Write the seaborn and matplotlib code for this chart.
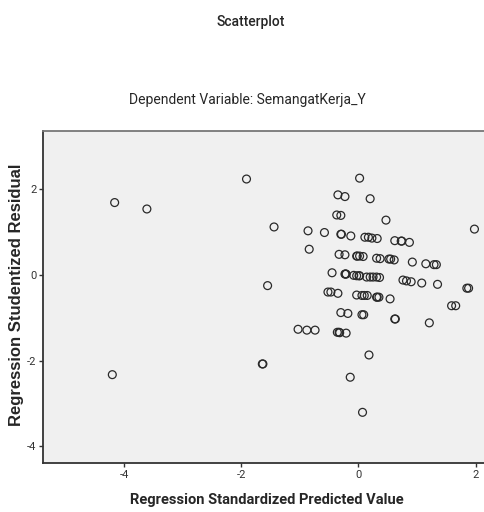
import matplotlib
matplotlib.use("Agg")
import matplotlib.pyplot as plt
import pandas as pd
import seaborn as sns

# standardized predicted value (x) and studentized residual (y)
pred = [
    -4.16, -3.61, -4.20, -1.91, 0.02, -0.35, -0.23, 0.20, -0.37, -0.30,
    0.47, -1.44, 1.98, -0.86, -0.58, -0.30, -0.29, -0.13, 0.11, 0.17,
    0.23, 0.32, 0.62, 0.73, 0.74, 0.87, -0.84, -0.33, -0.23, -0.03,
    -0.02, 0.02, 0.08, 0.31, 0.37, 0.52, 0.55, 0.61, 0.92, 1.15,
    1.29, 1.33, -1.55, -0.45, -0.23, -0.22, -0.21, -0.08, -0.03, 0.01,
    0.02, 0.14, 0.20, 0.25, 0.31, 0.36, 0.76, 0.82, 0.90, 1.08,
    1.35, 1.85, 1.88, -0.52, -0.47, -0.35, -0.03, 0.06, 0.10, 0.15,
    0.31, 0.32, 0.35, 0.54, 1.59, 1.66, -0.30, -0.18, 0.06, 0.09,
    0.62, 0.63, 1.21, -1.03, -0.88, -0.74, -0.36, -0.33, -0.32, -0.21,
    0.18, -1.64, -1.63, -0.14, 0.07,
]
resid = [
    1.69, 1.54, -2.33, 2.24, 2.26, 1.87, 1.83, 1.78, 1.40, 1.39,
    1.28, 1.12, 1.07, 1.03, 0.99, 0.95, 0.95, 0.91, 0.88, 0.88,
    0.86, 0.85, 0.80, 0.79, 0.79, 0.76, 0.60, 0.48, 0.47, 0.44,
    0.44, 0.44, 0.43, 0.39, 0.38, 0.37, 0.37, 0.35, 0.30, 0.26,
    0.24, 0.24, -0.25, 0.05, 0.02, 0.02, 0.02, -0.01, -0.02, -0.02,
    -0.02, -0.05, -0.05, -0.05, -0.05, -0.06, -0.12, -0.14, -0.16, -0.19,
    -0.22, -0.31, -0.31, -0.40, -0.40, -0.43, -0.47, -0.48, -0.48, -0.48,
    -0.52, -0.52, -0.52, -0.56, -0.72, -0.72, -0.88, -0.90, -0.93, -0.93,
    -1.03, -1.03, -1.12, -1.27, -1.29, -1.29, -1.34, -1.34, -1.35, -1.36,
    -1.87, -2.08, -2.08, -2.39, -3.21,
]
x_ticks = [-4, -2, 0, 2]
y_ticks = [-4, -2, 0, 2]

df = pd.DataFrame({"pred": pred, "resid": resid})

sns.set_style("white")
narrow = ["Roboto"]
wide = ["Liberation Sans"]

fig = plt.figure(figsize=(4.85, 5.12), dpi=100)
ax = fig.add_axes([0.089, 0.096, 0.911, 0.648])
ax.set_facecolor("#f0f0f0")

sns.scatterplot(
    data=df, x="pred", y="resid", ax=ax,
    marker="o", s=32, facecolors="none", edgecolor="#2a2a2a", linewidth=0.9,
)

ax.set_xlim(-5.38, 2.16)
ax.set_ylim(-4.39, 3.36)
ax.set_xticks(x_ticks)
ax.set_yticks(y_ticks)
ax.set_xticklabels([str(t) for t in x_ticks], family=narrow, fontsize=8, color="#333333")
ax.set_yticklabels([str(t) for t in y_ticks], family=narrow, fontsize=8, color="#333333")
ax.tick_params(axis="both", direction="out", length=3, width=1, color="#333333", pad=2)
ax.tick_params(axis="x", bottom=True)
ax.tick_params(axis="y", left=True)
ax.set_xlabel("")
ax.set_ylabel("")

for side in ["left", "bottom"]:
    ax.spines[side].set_color("#333333")
    ax.spines[side].set_linewidth(1.3)
ax.spines["top"].set_color("#777777")
ax.spines["top"].set_linewidth(1.3)
ax.spines["right"].set_visible(False)

fig.text(0.517, 0.957, "Scatterplot", ha="center", va="center",
         family=narrow, fontsize=10, fontweight="medium")
fig.text(0.51, 0.805, "Dependent Variable: SemangatKerja_Y", ha="center", va="center",
         family=narrow, fontsize=10)
fig.text(0.55, 0.024, "Regression Standardized Predicted Value", ha="center", va="center",
         family=narrow, fontsize=10.5, fontweight="bold")
fig.text(0.035, 0.424, "Regression Studentized Residual", ha="center", va="center",
         rotation=90, family=wide, fontsize=12, fontweight="bold")

fig.savefig("out.png", dpi=100)
